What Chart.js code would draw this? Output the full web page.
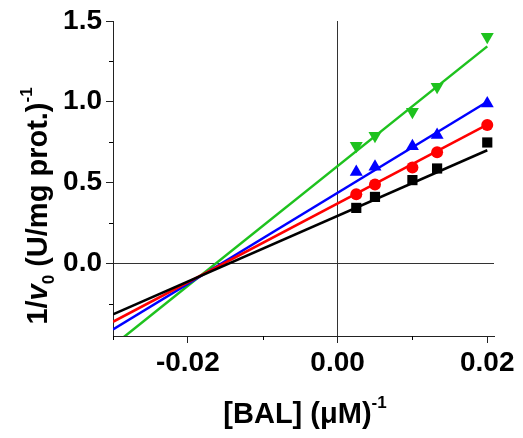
<!DOCTYPE html>
<html>
<head>
<meta charset="utf-8">
<script src="https://cdn.jsdelivr.net/npm/chart.js@4.4.1/dist/chart.umd.min.js"></script>
<style>
  html, body { margin: 0; padding: 0; background: #fff; }
  canvas { display: block; }
</style>
</head>
<body>
<canvas id="lbChart" width="523" height="438"></canvas>
<script>
// 1/[S] values (uM^-1)
const invSubstrate = [0.0025, 0.005, 0.01, 0.0133, 0.02];

// 1/v0 measured, one array per inhibitor level
const seriesBlack = [0.343, 0.411, 0.515, 0.587, 0.748];
const seriesRed   = [0.428, 0.488, 0.593, 0.688, 0.856];
const seriesBlue  = [0.566, 0.597, 0.725, 0.795, 0.990];
const seriesGreen = [0.727, 0.789, 0.938, 1.093, 1.403];

// fitted lines, ends at the left edge and the last point
const fitX     = [-0.03, 0.02];
const fitBlack = [-0.316, 0.700];
const fitRed   = [-0.362, 0.858];
const fitBlue  = [-0.410, 1.000];
const fitGreen = [-0.510, 1.343];

// axis ticks
const xTickValues = [-0.03, -0.02, -0.01, 0, 0.01, 0.02];
const xTickLabels = ['', '-0.02', '', '0.00', '', '0.02'];
const yTickValues = [-0.25, 0, 0.25, 0.5, 0.75, 1.0, 1.25, 1.5];
const yTickLabels = ['', '0.0', '', '0.5', '', '1.0', '', '1.5'];

const FONT = "'Liberation Sans', Arial, sans-serif";
const GREEN = '#1ec21e';

function pts(xs, ys) {
  return xs.map((x, i) => ({ x: x, y: ys[i] }));
}

function markers(data, color, style, rotation, radius) {
  return {
    data: data,
    showLine: false,
    pointStyle: style,
    rotation: rotation,
    pointRadius: radius,
    pointBackgroundColor: color,
    pointBorderColor: color,
    pointBorderWidth: 0,
    order: 0
  };
}

function fitLine(data, color) {
  return {
    data: data,
    showLine: true,
    borderColor: color,
    borderWidth: 2.5,
    pointRadius: 0,
    order: 1
  };
}

function isMajor(labels, idx) {
  return labels[idx] !== '';
}

// draws a string made of runs with different fonts / offsets, centred on cx
function drawRichText(ctx, parts, cx, baseY) {
  let total = 0;
  parts.forEach(p => { ctx.font = p.font; p.w = ctx.measureText(p.text).width; total += p.w; });
  let x = cx - total / 2;
  parts.forEach(p => {
    ctx.font = p.font;
    ctx.fillText(p.text, x, baseY + (p.dy || 0));
    x += p.w;
  });
}

const decorations = {
  id: 'decorations',
  afterDraw(chart) {
    const { ctx, chartArea, scales } = chart;
    const xs = scales.x, ys = scales.y;
    ctx.save();
    ctx.strokeStyle = '#000';
    ctx.lineWidth = 1;

    // short minor ticks
    xTickValues.forEach((v, i) => {
      if (isMajor(xTickLabels, i)) return;
      const px = Math.round(xs.getPixelForValue(v)) + 0.5;
      ctx.beginPath();
      ctx.moveTo(px, chartArea.bottom);
      ctx.lineTo(px, chartArea.bottom + 4);
      ctx.stroke();
    });
    yTickValues.forEach((v, i) => {
      if (isMajor(yTickLabels, i)) return;
      const py = Math.round(ys.getPixelForValue(v)) + 0.5;
      ctx.beginPath();
      ctx.moveTo(chartArea.left, py);
      ctx.lineTo(chartArea.left - 4, py);
      ctx.stroke();
    });

    // axis titles
    ctx.fillStyle = '#000';
    ctx.textBaseline = 'alphabetic';
    const big = 'bold 29px ' + FONT;
    const small = 'bold 17px ' + FONT;

    drawRichText(ctx, [
      { text: '[BAL] (\u03bcM)', font: big },
      { text: '-1', font: small, dy: -15 }
    ], 305, 423);

    ctx.translate(47, 206);
    ctx.rotate(-Math.PI / 2);
    drawRichText(ctx, [
      { text: '1/', font: big },
      { text: 'v', font: 'italic bold 29px ' + FONT },
      { text: '0', font: small, dy: 7 },
      { text: ' (U/mg prot.)', font: big },
      { text: '-1', font: small, dy: -15 }
    ], 0, 0);
    ctx.restore();
  }
};

const ctx = document.getElementById('lbChart').getContext('2d');

new Chart(ctx, {
  type: 'scatter',
  data: {
    datasets: [
      markers(pts(invSubstrate, seriesBlack), '#000000', 'rect', 0, 7.2),
      markers(pts(invSubstrate, seriesRed), '#ff0000', 'circle', 0, 6),
      markers(pts(invSubstrate, seriesBlue), '#0000ff', 'triangle', 0, 7.5),
      markers(pts(invSubstrate, seriesGreen), GREEN, 'triangle', 180, 7.5),
      fitLine(pts(fitX, fitBlack), '#000000'),
      fitLine(pts(fitX, fitRed), '#ff0000'),
      fitLine(pts(fitX, fitBlue), '#0000ff'),
      fitLine(pts(fitX, fitGreen), GREEN)
    ]
  },
  options: {
    responsive: false,
    animation: false,
    devicePixelRatio: 1,
    layout: { padding: { top: 21, right: 29, left: 0, bottom: 0 } },
    plugins: {
      legend: { display: false },
      tooltip: { enabled: false }
    },
    scales: {
      x: {
        type: 'linear',
        min: -0.03,
        max: 0.0209,
        afterBuildTicks: s => { s.ticks = xTickValues.map(v => ({ value: v })); },
        afterFit: s => { s.height = 102; },
        border: { color: '#222', width: 1 },
        grid: {
          drawOnChartArea: true,
          tickLength: 7,
          color: c => (c.tick && Math.abs(c.tick.value) < 1e-9) ? '#333' : 'rgba(0,0,0,0)',
          tickColor: c => isMajor(xTickLabels, c.index) ? '#222' : 'rgba(0,0,0,0)'
        },
        ticks: {
          autoSkip: false,
          maxRotation: 0,
          padding: 3,
          color: '#000',
          font: { family: FONT, size: 28, weight: 'bold' },
          callback: (v, i) => xTickLabels[i]
        }
      },
      y: {
        type: 'linear',
        min: -0.45,
        max: 1.5,
        afterBuildTicks: s => { s.ticks = yTickValues.map(v => ({ value: v })); },
        afterFit: s => { s.width = 113; },
        border: { color: '#222', width: 1 },
        grid: {
          drawOnChartArea: true,
          tickLength: 7,
          color: c => (c.tick && Math.abs(c.tick.value) < 1e-9) ? '#333' : 'rgba(0,0,0,0)',
          tickColor: c => isMajor(yTickLabels, c.index) ? '#222' : 'rgba(0,0,0,0)'
        },
        ticks: {
          autoSkip: false,
          padding: 4,
          color: '#000',
          font: { family: FONT, size: 28, weight: 'bold' },
          callback: (v, i) => yTickLabels[i]
        }
      }
    }
  },
  plugins: [decorations]
});
</script>
</body>
</html>
